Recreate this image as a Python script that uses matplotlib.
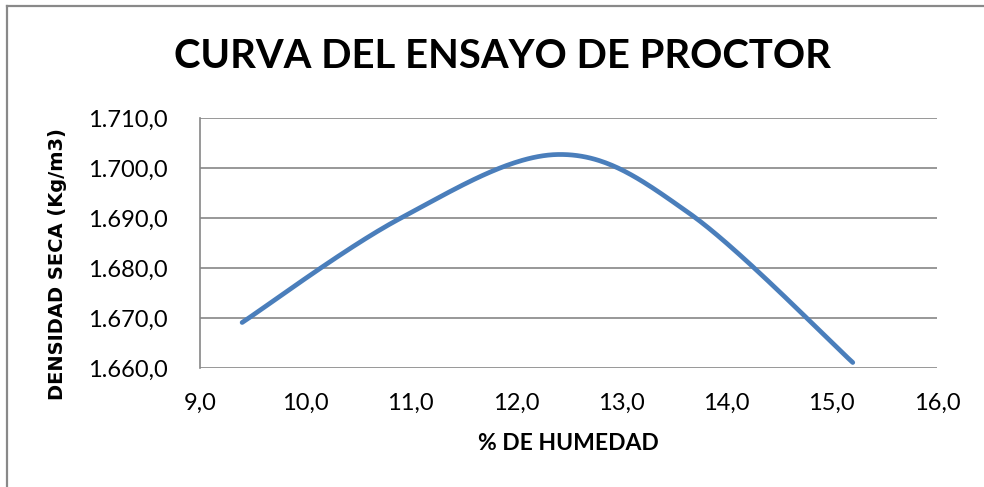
import numpy as np
import matplotlib
matplotlib.use("Agg")
import matplotlib.pyplot as plt
from matplotlib.lines import Line2D
from matplotlib.ticker import FuncFormatter

humedad = [9.4, 10.9, 12.4, 13.65, 15.2]
densidad = [1669.1, 1689.9, 1702.7, 1690.9, 1661.1]
x_ticks = [9, 10, 11, 12, 13, 14, 15, 16]
y_ticks = [1660, 1670, 1680, 1690, 1700, 1710]

def smooth(xs, ys, n=60):
    # Excel-style smoothed line (Catmull-Rom Bezier through the points)
    P = np.column_stack([xs, ys]).astype(float)
    ext = np.vstack([P[0], P, P[-1]])
    out = []
    for i in range(1, len(ext) - 2):
        p0, p1, p2, p3 = ext[i - 1], ext[i], ext[i + 1], ext[i + 2]
        c1 = p1 + (p2 - p0) / 6.0
        c2 = p2 - (p3 - p1) / 6.0
        t = np.linspace(0, 1, n)[:, None]
        seg = ((1 - t) ** 3) * p1 + 3 * ((1 - t) ** 2) * t * c1 + 3 * (1 - t) * t ** 2 * c2 + t ** 3 * p2
        out.append(seg if i == 1 else seg[1:])
    s = np.vstack(out)
    return s[:, 0], s[:, 1]

W, H = 984, 487
fig = plt.figure(figsize=(W / 100, H / 100), dpi=100)
# outer chart-area border (only top and left visible in the crop)
fig.add_artist(Line2D([7 / W, 1.0], [1 - 6 / H, 1 - 6 / H], transform=fig.transFigure,
                      color="#898989", linewidth=1.6))
fig.add_artist(Line2D([7 / W, 7 / W], [0.0, 1 - 6 / H], transform=fig.transFigure,
                      color="#898989", linewidth=1.6))

ax = fig.add_axes([200 / W, 1 - 368 / H, (937 - 200) / W, (368 - 118) / H])

sx, sy = smooth(humedad, densidad)
ax.plot(sx, sy, color="#4A7EBB", linewidth=3.4, solid_capstyle="round", zorder=3)

ax.set_xlim(9, 16)
ax.set_ylim(1660, 1710)
ax.set_xticks(x_ticks)
ax.set_yticks(y_ticks)
ax.xaxis.set_major_formatter(FuncFormatter(lambda v, p: f"{v:.1f}".replace(".", ",")))
def yfmt(v, p):
    s = f"{v:,.1f}"
    return s.replace(",", "X").replace(".", ",").replace("X", ".")
ax.yaxis.set_major_formatter(FuncFormatter(yfmt))
ax.grid(axis="y", color="#868686", linewidth=1.2)
ax.set_axisbelow(True)
for side in ["top", "right", "bottom"]:
    ax.spines[side].set_visible(False)
ax.spines["left"].set_color("#868686")
ax.spines["left"].set_linewidth(1.2)
ax.tick_params(length=0, labelsize=17)
ax.tick_params(axis="y", pad=23)
ax.tick_params(axis="x", pad=18)
for lab in ax.get_xticklabels() + ax.get_yticklabels():
    lab.set_fontfamily("Lato")

ax.set_xlabel("% DE HUMEDAD", fontsize=16.5, fontweight="bold", fontfamily="Lato")
ax.xaxis.set_label_coords(0.5, -0.258)
ax.set_ylabel("DENSIDAD SECA (Kg/m3)", fontsize=14, fontweight="bold", fontfamily="DejaVu Sans")
ax.yaxis.set_label_coords(-0.18, 0.416)

fig.text(502 / W, 1 - 57 / H, "CURVA DEL ENSAYO DE PROCTOR", ha="center", va="center",
         fontsize=28.8, fontweight="bold", fontfamily="Lato")

fig.savefig("out.png", dpi=100)
